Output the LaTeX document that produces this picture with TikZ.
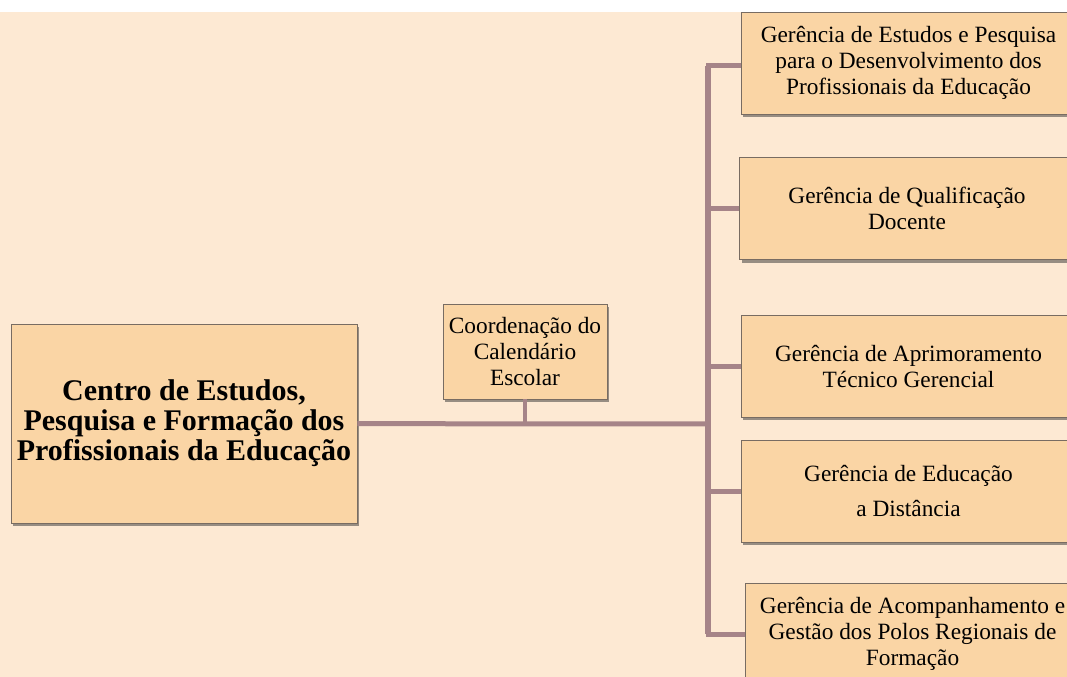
\documentclass[tikz,border=0pt]{standalone}
\usepackage{fontspec}
\setmainfont{Liberation Serif}
\usepackage{tikz}
\usetikzlibrary{shadows,positioning}

\definecolor{bgpeach}{RGB}{253,233,211}
\definecolor{boxorange}{RGB}{250,213,165}
\definecolor{boxline}{RGB}{120,108,98}
\definecolor{linkrose}{RGB}{166,132,136}

\begin{document}
\begin{tikzpicture}[x=0.75pt,y=-0.75pt,line join=miter]
       \tikzstyle{unit}=[rectangle, draw=boxline, line width=0.6pt, fill=boxorange,
         align=center, inner sep=2pt,
         drop shadow={shadow xshift=1.5pt, shadow yshift=-2.6pt, fill=black!80, opacity=0.5},
         font=\fontsize{17.5pt}{19.5pt}\selectfont]
       \tikzstyle{manager}=[unit, minimum width=251.25pt, minimum height=76.5pt]
       \tikzstyle{link}=[draw=linkrose, line width=3.75pt]

       \clip (0,0) rectangle (1067,677);
       \fill[white] (0,0) rectangle (1067,12);
       \fill[bgpeach] (0,12) rectangle (1067,677);

       \coordinate (j) at (708,424);

       \node[unit, minimum width=259.5pt, minimum height=149.25pt,
         font=\bfseries\fontsize{22.5pt}{22.5pt}\selectfont] (c_0) at (184,423.5)
         {Centro de Estudos,\\Pesquisa e Formação dos\\Profissionais da Educação};
       \node[unit, minimum width=123pt, minimum height=71.25pt, inner sep=0pt] (k_0) at (525,351.5)
         {Coordenação do\\Calendário\\Escolar};

       \node[manager] (g_1) at (908.5,63)
         {Gerência de Estudos e Pesquisa\\para o Desenvolvimento dos\\Profissionais da Educação};
       \node[manager] (g_2) at (907,208.5) {Gerência de Qualificação\\Docente};
       \node[manager] (g_3) at (908.5,366) {Gerência de Aprimoramento\\Técnico Gerencial};
       \node[manager] (g_4) at (908.5,491) {Gerência de Educação\\[6.75pt]a Distância};
       \node[manager] (g_5) at (912.5,634)
         {Gerência de Acompanhamento e\\Gestão dos Polos Regionais de\\Formação};

       \path[link] (c_0) -- (j);
       \path[link, line width=3pt] (k_0) -- (k_0 |- j);
       \path[link] (j) |- (g_1.west |- 0,66);
       \path[link] (j) |- (g_2);
       \path[link] (j) |- (g_3);
       \path[link] (j) |- (g_4);
       \path[link] (j) |- (g_5);
       \path[link, line width=4.5pt] (j |- 0,66) -- (j |- g_5);
     \end{tikzpicture}
\end{document}
